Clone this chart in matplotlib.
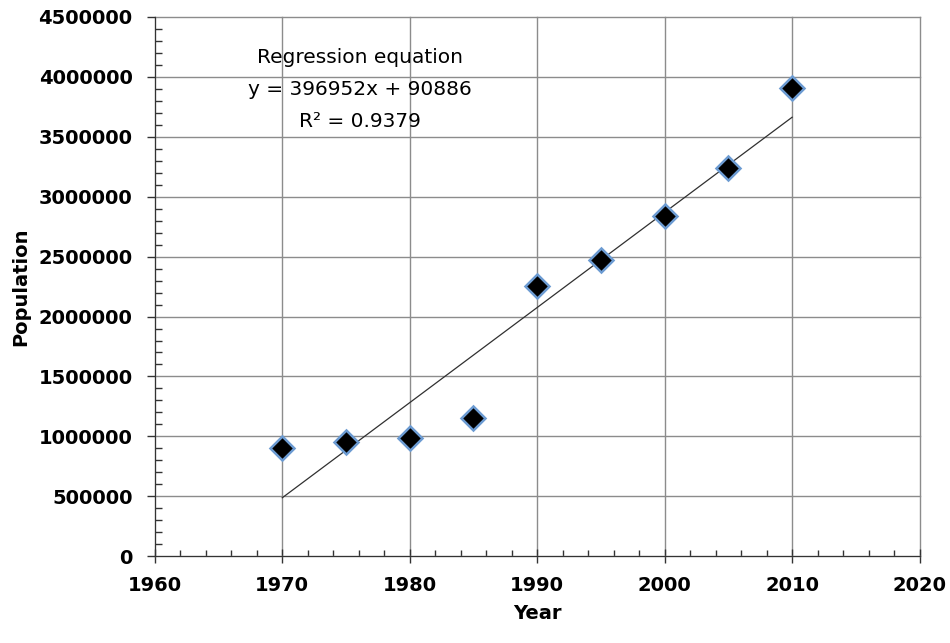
import matplotlib.pyplot as plt
import numpy as np
from matplotlib.ticker import MultipleLocator, FuncFormatter

years = [1970, 1975, 1980, 1985, 1990, 1995, 2000, 2005, 2010]
population = [900000, 952000, 985000, 1152000, 2254000, 2471000, 2838000, 3239000, 3907000]
slope = 396952
intercept = 90886
r2 = 0.9379

fig = plt.figure(figsize=(9.5, 6.43), dpi=100)
ax = fig.add_axes([0.163, 0.135, 0.805, 0.8386])

# trendline uses point index 1..n like the spreadsheet did
idx = np.arange(1, len(years) + 1)
ax.plot(years, slope * idx + intercept, color='#303030', lw=0.9, zorder=2)
ax.plot(years, population, ls='none', marker='D', ms=12, mfc='black',
        mec='#6c9bd2', mew=1.8, zorder=3)

ax.set_xlim(1960, 2020)
ax.set_ylim(0, 4500000)
ax.xaxis.set_major_locator(MultipleLocator(10))
ax.xaxis.set_minor_locator(MultipleLocator(2))
ax.yaxis.set_major_locator(MultipleLocator(500000))
ax.yaxis.set_minor_locator(MultipleLocator(100000))
ax.yaxis.set_major_formatter(FuncFormatter(lambda v, p: '%d' % v))
ax.grid(True, which='major', color='#8c8c8c', lw=1.0)
ax.set_axisbelow(True)
for ln in ax.get_xgridlines() + ax.get_ygridlines():
    ln.set_clip_on(False)

for s in ['top', 'right']:
    ax.spines[s].set_visible(False)
for s in ['left', 'bottom']:
    ax.spines[s].set_color('#333333')

ax.tick_params(axis='x', which='major', direction='inout', length=10, width=1, pad=9,
               labelsize=14, color='#333333')
ax.tick_params(axis='x', which='minor', direction='in', length=4, width=1, color='#333333')
ax.tick_params(axis='y', which='major', direction='out', length=6, width=1, pad=10,
               labelsize=14, color='#333333')
ax.tick_params(axis='y', which='minor', direction='in', length=5, width=1, color='#333333')
for lab in ax.get_xticklabels() + ax.get_yticklabels():
    lab.set_fontweight('bold')

ax.set_xlabel('Year', fontsize=14, fontweight='bold', labelpad=7)
ax.set_ylabel('Population', fontsize=14, fontweight='bold', labelpad=6)

ax.text(0.268, 0.924, 'Regression equation', transform=ax.transAxes,
        ha='center', va='center', fontsize=14.5)
ax.text(0.268, 0.865, 'y = %dx + %d' % (slope, intercept), transform=ax.transAxes,
        ha='center', va='center', fontsize=14.5)
ax.text(0.268, 0.806, 'R² = %.4f' % r2, transform=ax.transAxes,
        ha='center', va='center', fontsize=14.5)

fig.savefig('out.png', dpi=100)
